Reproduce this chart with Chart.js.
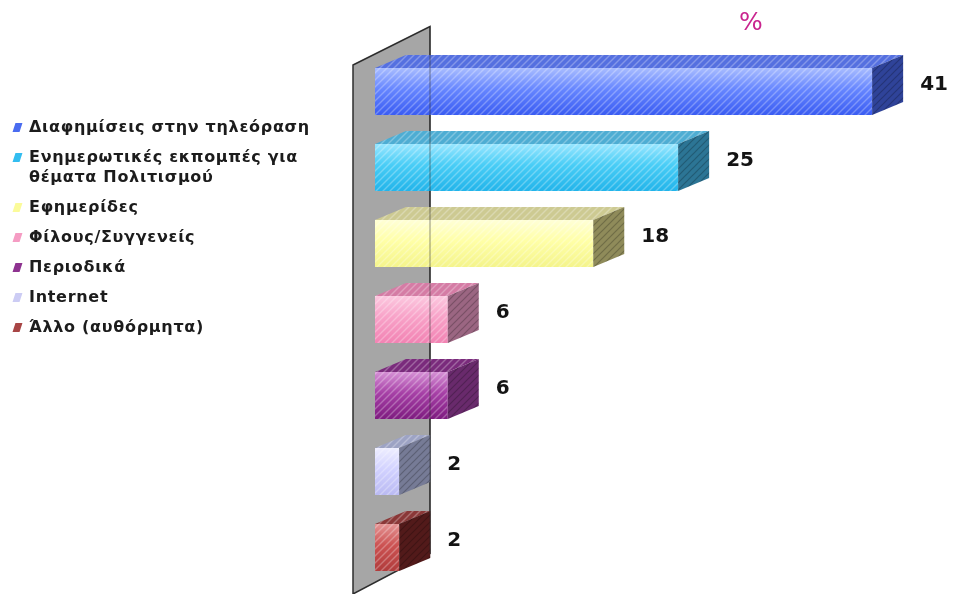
<!DOCTYPE html>
<html>
<head>
<meta charset="utf-8">
<script src="https://cdn.jsdelivr.net/npm/chart.js@4.4.1/dist/chart.umd.min.js"></script>
<style>
  html, body { margin: 0; padding: 0; background: #ffffff; }
  #wrap { position: relative; width: 959px; height: 594px; overflow: hidden; }
  #chart { position: absolute; left: 0; top: 0; }
  #legend {
    position: absolute; left: 13px; top: 117px;
    font: bold 16px "DejaVu Sans", Verdana, sans-serif; color: #1c1c1c;
    line-height: 20px; letter-spacing: 0.7px;
  }
  .item { display: flex; align-items: flex-start; margin-bottom: 10px; }
  .mark { flex: none; width: 7px; height: 9px; margin: 6px 8px 0 1px; transform: skewX(-18deg); }
</style>
</head>
<body>
<div id="wrap">
  <canvas id="chart" width="959" height="594"></canvas>
  <div id="legend"></div>
</div>
<script>
// Survey answers (%), one bar per source
const categories = [
  ['Διαφημίσεις στην τηλεόραση'],
  ['Ενημερωτικές εκπομπές για', 'θέματα Πολιτισμού'],
  ['Εφημερίδες'],
  ['Φίλους/Συγγενείς'],
  ['Περιοδικά'],
  ['Internet'],
  ['Άλλο (αυθόρμητα)']
];
const values = [41, 25, 18, 6, 6, 2, 2];
const unitLabel = '%';

// Face colours of each 3D bar
const frontLight = ['#a8bcff', '#98e6ff', '#ffffd6', '#fcc8df', '#d590d5', '#eeeeff', '#e49494'];
const frontMid   = ['#6686ff', '#48cdf6', '#ffffa6', '#f8a2c8', '#a640a6', '#d2d2ff', '#cc5252'];
const frontDark  = ['#3a5cf2', '#22b4ea', '#f4f48c', '#f283b3', '#7e1c80', '#babaf2', '#b03c3c'];
const topColors  = ['#5570e0', '#4eadd3', '#cdca92', '#d57ca5', '#7a2b7c', '#9da3c4', '#8a3838'];
const sideColors = ['#2f4399', '#2c7595', '#8f8b5a', '#9b6682', '#692a6c', '#767b96', '#521a1a'];
const legendColors = ['#4a6cf0', '#33bdf0', '#fbfb9a', '#f59cc3', '#8e3390', '#ccccf4', '#a84545'];

// Legend
const legendBox = document.getElementById('legend');
categories.forEach((lines, i) => {
  const row = document.createElement('div');
  row.className = 'item';
  const m = document.createElement('span');
  m.className = 'mark';
  m.style.background = legendColors[i];
  const t = document.createElement('span');
  t.innerHTML = lines.join('<br>');
  row.appendChild(m);
  row.appendChild(t);
  legendBox.appendChild(row);
});

const DX = 31, DY = -13;       // depth offset of the 3D bars
const BAR_PCT = 0.62;

function makePattern(color, width) {
  const c = document.createElement('canvas');
  c.width = 7; c.height = 7;
  const g = c.getContext('2d');
  g.strokeStyle = color; g.lineWidth = width;
  [[-7, 7, 7, -7], [0, 7, 7, 0], [0, 14, 14, 0]].forEach(([a, b, d, e]) => {
    g.beginPath(); g.moveTo(a, b); g.lineTo(d, e); g.stroke();
  });
  return c;
}
const lightStripes = makePattern('rgba(255,255,255,0.28)', 1.4);
const darkStripes = makePattern('rgba(0,0,0,0.22)', 1.2);

function halfThickness(chart) {
  const y = chart.scales.y;
  return (y.getPixelForValue(1) - y.getPixelForValue(0)) * BAR_PCT / 2;
}

function frontFill(ctx) {
  const chart = ctx.chart, i = ctx.dataIndex;
  if (!chart.chartArea) return frontMid[i];
  const yc = chart.scales.y.getPixelForValue(i);
  const h = halfThickness(chart);
  const g = chart.ctx.createLinearGradient(0, yc - h, 0, yc + h);
  g.addColorStop(0, frontLight[i]);
  g.addColorStop(0.45, frontMid[i]);
  g.addColorStop(1, frontDark[i]);
  return g;
}

function poly(ctx, pts) {
  ctx.beginPath();
  ctx.moveTo(pts[0][0], pts[0][1]);
  for (let k = 1; k < pts.length; k++) ctx.lineTo(pts[k][0], pts[k][1]);
  ctx.closePath();
}

function fillWithStripes(ctx, pts, color, pattern) {
  ctx.save();
  poly(ctx, pts);
  ctx.fillStyle = color;
  ctx.fill();
  ctx.clip();
  ctx.fillStyle = ctx.createPattern(pattern, 'repeat');
  ctx.fillRect(0, 0, ctx.canvas.width, ctx.canvas.height);
  ctx.restore();
}

const bars3d = {
  id: 'bars3d',
  beforeDatasetsDraw(chart) {
    const ctx = chart.ctx, a = chart.chartArea;
    const x0 = chart.scales.x.getPixelForValue(0);
    const wl = x0 - 22, wr = x0 + 55;
    const wall = [[wl, a.top + 11.5], [wr, a.top - 27], [wr, a.bottom - 32], [wl, a.bottom + 8.5]];
    ctx.save();
    poly(ctx, wall);
    ctx.fillStyle = '#a6a6a6';
    ctx.fill();
    ctx.strokeStyle = '#2e2e2e';
    ctx.lineWidth = 1.5;
    ctx.stroke();
    ctx.restore();
  },
  afterDatasetsDraw(chart) {
    const ctx = chart.ctx;
    const meta = chart.getDatasetMeta(0);
    const x0 = chart.scales.x.getPixelForValue(0);
    meta.data.forEach((el, i) => {
      const p = el.getProps(['x', 'y', 'base', 'height'], true);
      const l = p.base, r = p.x, t = p.y - p.height / 2, b = p.y + p.height / 2;
      // stripes over the front face
      ctx.save();
      ctx.beginPath(); ctx.rect(l, t, r - l, b - t); ctx.clip();
      ctx.fillStyle = ctx.createPattern(lightStripes, 'repeat');
      ctx.fillRect(l, t, r - l, b - t);
      ctx.restore();
      // top face
      fillWithStripes(ctx, [[l, t], [r, t], [r + DX, t + DY], [l + DX, t + DY]], topColors[i], lightStripes);
      // side face
      fillWithStripes(ctx, [[r, t], [r + DX, t + DY], [r + DX, b + DY], [r, b]], sideColors[i], darkStripes);
    });
    // wall edge seen through the bars
    const a = chart.chartArea;
    ctx.save();
    ctx.strokeStyle = 'rgba(40,40,40,0.35)';
    ctx.lineWidth = 1.5;
    ctx.beginPath();
    ctx.moveTo(x0 + 55, a.top - 27);
    ctx.lineTo(x0 + 55, a.bottom - 32);
    ctx.stroke();
    ctx.restore();
    // value labels
    ctx.save();
    ctx.font = 'bold 20px "DejaVu Sans", Verdana, sans-serif';
    ctx.fillStyle = '#141414';
    ctx.textAlign = 'left';
    ctx.textBaseline = 'middle';
    meta.data.forEach((el, i) => {
      const p = el.getProps(['x', 'y'], true);
      ctx.fillText(String(values[i]), p.x + DX + 17, p.y - 7);
    });
    // unit title
    ctx.font = '25px "DejaVu Sans", Verdana, sans-serif';
    ctx.fillStyle = '#c9248e';
    ctx.textAlign = 'center';
    ctx.fillText(unitLabel, 751, 23);
    ctx.restore();
  }
};

new Chart(document.getElementById('chart'), {
  type: 'bar',
  data: {
    labels: categories.map(c => c.join(' ')),
    datasets: [{
      data: values,
      backgroundColor: frontFill,
      borderWidth: 0,
      barPercentage: BAR_PCT,
      categoryPercentage: 1
    }]
  },
  options: {
    indexAxis: 'y',
    responsive: false,
    devicePixelRatio: 1,
    animation: false,
    layout: { padding: { left: 375, right: 2, top: 53.5, bottom: 8.5 } },
    scales: {
      x: { type: 'linear', min: 0, max: 48, display: false },
      y: { display: false }
    },
    plugins: { legend: { display: false }, tooltip: { enabled: false } }
  },
  plugins: [bars3d]
});
</script>
</body>
</html>
